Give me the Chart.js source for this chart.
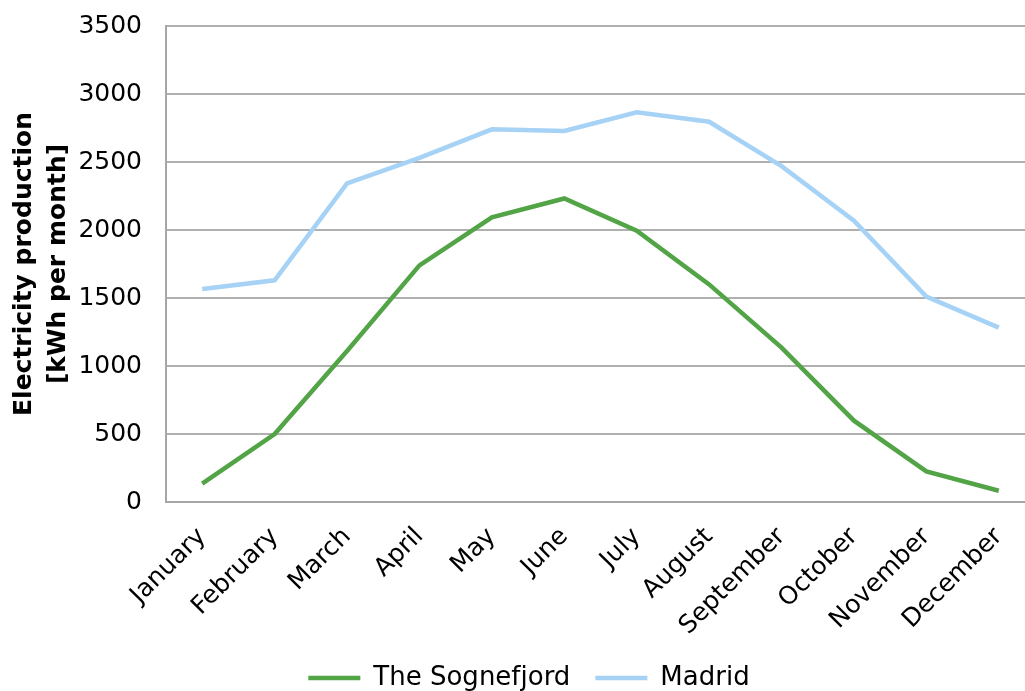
<!DOCTYPE html>
<html>
<head>
<meta charset="utf-8">
<script src="https://cdn.jsdelivr.net/npm/chart.js@4/dist/chart.umd.min.js"></script>
<style>
  html, body { margin: 0; padding: 0; background: #fff; overflow: hidden; }
  #wrap { width: 1040px; height: 691px; position: relative; }
</style>
</head>
<body>
<div id="wrap"><canvas id="c"></canvas></div>
<script>
// Monthly electricity production (kWh per month)
const months = ['January', 'February', 'March', 'April', 'May', 'June',
                'July', 'August', 'September', 'October', 'November', 'December'];
const sognefjord = [135, 500, 1110, 1740, 2093, 2232, 1995, 1600, 1135, 598, 225, 83];
const madrid = [1566, 1630, 2343, 2530, 2740, 2728, 2865, 2796, 2470, 2068, 1510, 1282];
const yTicks = [0, 500, 1000, 1500, 2000, 2500, 3000, 3500];

const FONT = 'Verdana, "DejaVu Sans", sans-serif';
const PAD_LEFT = 18;

new Chart(document.getElementById('c'), {
  type: 'line',
  data: {
    labels: months,
    datasets: [
      {
        label: 'The Sognefjord',
        data: sognefjord,
        borderColor: '#52a447',
        backgroundColor: '#52a447',
        borderWidth: 4.5,
        pointRadius: 0,
        tension: 0
      },
      {
        label: 'Madrid',
        data: madrid,
        borderColor: '#a6d2f5',
        backgroundColor: '#a6d2f5',
        borderWidth: 4.5,
        pointRadius: 0,
        tension: 0
      }
    ]
  },
  options: {
    responsive: true,
    maintainAspectRatio: false,
    animation: false,
    layout: { padding: { top: 26, right: 0, left: PAD_LEFT, bottom: -10 } },
    plugins: {
      tooltip: { enabled: false },
      legend: {
        position: 'bottom',
        labels: {
          usePointStyle: true,
          pointStyle: 'line',
          pointStyleWidth: 52,
          padding: 25,
          color: '#000',
          font: { family: FONT, size: 26 }
        }
      }
    },
    scales: {
      x: {
        type: 'category',
        offset: true,
        grid: { display: false, drawTicks: false },
        border: { display: true, color: '#a6a6a6', width: 2 },
        ticks: {
          color: '#000',
          font: { family: FONT, size: 25 },
          minRotation: 45,
          maxRotation: 45,
          padding: 20,
          autoSkip: false
        },
        afterFit: (s) => { s.height = 138; }
      },
      y: {
        min: 0,
        max: 3500,
        afterBuildTicks: (s) => { s.ticks = yTicks.map(v => ({ value: v })); },
        grid: { color: '#b0b0b0', lineWidth: 2, drawTicks: false },
        border: { display: true, color: '#a6a6a6', width: 2 },
        ticks: {
          color: '#000',
          font: { family: FONT, size: 25 },
          padding: 24,
          callback: (v) => String(v)
        },
        title: {
          display: true,
          text: ['Electricity production', '[kWh per month]'],
          color: '#000',
          font: { family: FONT, size: 25, weight: 'bold', lineHeight: 1.36 },
          padding: { top: -11, bottom: 0 }
        },
        afterFit: (s) => {
          s.width = 166 - PAD_LEFT;
          s.paddingTop = 0;
          s.paddingBottom = 0;
        }
      }
    }
  }
});
</script>
</body>
</html>
